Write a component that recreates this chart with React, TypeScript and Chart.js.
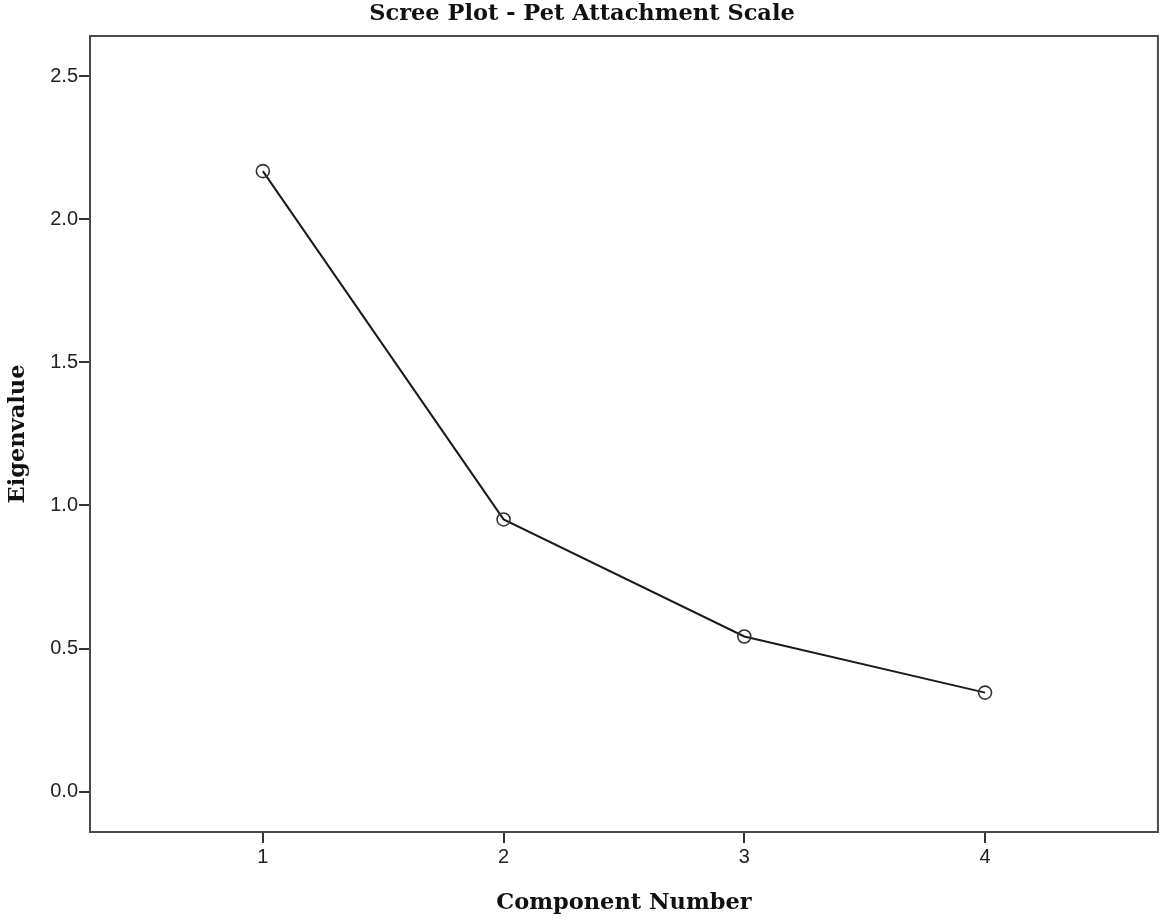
import React, { useEffect, useRef } from "react";
import { Chart, registerables } from "chart.js";

Chart.register(...registerables);

const components = [1, 2, 3, 4];
const eigenvalues = [2.168, 0.951, 0.542, 0.346];
const xTickValues = [1, 2, 3, 4];
const yTickValues = [0, 0.5, 1.0, 1.5, 2.0, 2.5];

const titleText = "Scree Plot - Pet Attachment Scale";
const xTitle = "Component Number";
const yTitle = "Eigenvalue";

const frameColor = "#4a4a4a";
const lineColor = "#1a1a1a";

const boxPlugin = {
  id: "boxFrame",
  afterDatasetsDraw(chart: any) {
    const { ctx, chartArea } = chart;
    ctx.save();
    ctx.strokeStyle = frameColor;
    ctx.lineWidth = 2;
    ctx.strokeRect(chartArea.left, chartArea.top, chartArea.right - chartArea.left, chartArea.bottom - chartArea.top);
    ctx.restore();
  },
};

const titleFont = { family: "DejaVu Serif", size: 22.5, weight: "bold" as const, lineHeight: 1.2 };
const tickFont = { family: "Liberation Sans", size: 20 };

export default function App() {
  const ref = useRef<HTMLCanvasElement>(null);
  useEffect(() => {
    if (!ref.current) return;
    const chart = new Chart(ref.current, {
      type: "line",
      data: {
        datasets: [
          {
            data: components.map((c, i) => ({ x: c, y: eigenvalues[i] })),
            borderColor: lineColor,
            borderWidth: 2,
            tension: 0,
            pointRadius: 6.5,
            pointBorderWidth: 1.6,
            pointBorderColor: "#333333",
            pointBackgroundColor: "rgba(0,0,0,0)",
            pointStyle: "circle",
          },
        ],
      },
      plugins: [boxPlugin],
      options: {
        animation: false,
        responsive: false,
        devicePixelRatio: 1,
        layout: { padding: { left: 0, right: 2, top: 0, bottom: 0 } },
        plugins: {
          legend: { display: false },
          tooltip: { enabled: false },
          title: {
            display: true,
            text: titleText,
            color: "#111111",
            font: titleFont,
            padding: { top: 1, bottom: 8 },
          },
        },
        scales: {
          x: {
            type: "linear",
            min: 0.282,
            max: 4.718,
            afterFit(scale: any) {
              scale.height = 86;
            },
            afterBuildTicks(scale: any) {
              scale.ticks = xTickValues.map((v) => ({ value: v }));
            },
            grid: {
              display: true,
              drawOnChartArea: false,
              drawTicks: true,
              tickLength: 11,
              color: "#333333",
              lineWidth: 2,
            },
            border: { display: true, color: frameColor, width: 2 },
            ticks: {
              color: "#222222",
              font: tickFont,
              padding: 2,
              callback: (v: any) => String(v),
            },
            title: {
              display: true,
              text: xTitle,
              color: "#111111",
              font: titleFont,
              padding: { top: 0, bottom: 1.5 },
            },
          },
          y: {
            type: "linear",
            min: -0.141,
            max: 2.64,
            afterFit(scale: any) {
              scale.width = 90;
            },
            afterBuildTicks(scale: any) {
              scale.ticks = yTickValues.map((v) => ({ value: v }));
            },
            grid: {
              display: true,
              drawOnChartArea: false,
              drawTicks: true,
              tickLength: 11,
              color: "#333333",
              lineWidth: 2,
            },
            border: { display: true, color: frameColor, width: 2 },
            ticks: {
              color: "#222222",
              font: tickFont,
              padding: 1,
              callback: (v: any) => Number(v).toFixed(1),
            },
            title: {
              display: true,
              text: yTitle,
              color: "#111111",
              font: titleFont,
              padding: { top: 4.5, bottom: 0 },
            },
          },
        },
      },
    });
    return () => chart.destroy();
  }, []);
  return (
    <div style={{ position: "absolute", left: 0, top: 0, width: 1166, height: 918, background: "#fff" }}>
      <canvas ref={ref} width={1166} height={918} style={{ display: "block", width: 1166, height: 918 }} />
    </div>
  );
}
